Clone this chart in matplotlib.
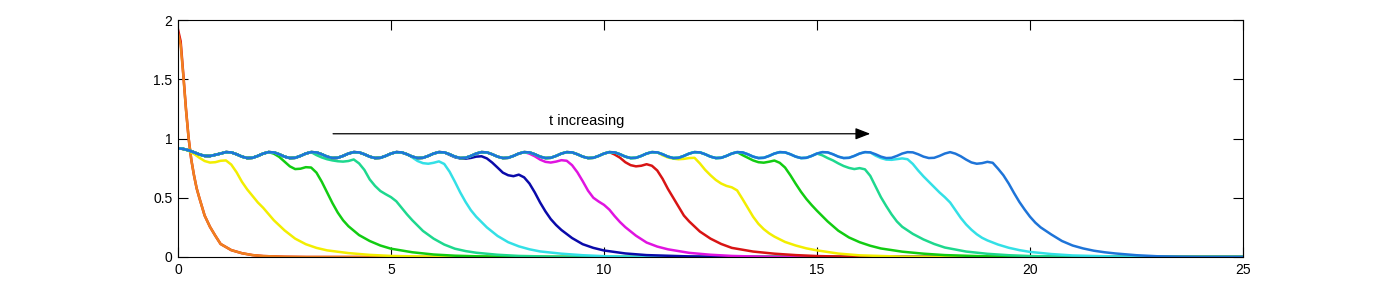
import numpy as np
import matplotlib
matplotlib.use("Agg")
import matplotlib.pyplot as plt

plt.rcParams['font.family'] = ['Liberation Sans', 'DejaVu Sans']

# ---------------- data ----------------
# shared wavy plateau, sampled every 0.125 from x = 0
plateau_y = [0.917, 0.912, 0.900, 0.884, 0.866, 0.853, 0.852, 0.862,
             0.873, 0.885, 0.883, 0.867, 0.847, 0.835, 0.837, 0.853,   # 1
             0.873, 0.885, 0.883, 0.867, 0.847, 0.835, 0.837, 0.853,   # 2
             0.873, 0.885, 0.883, 0.867, 0.847, 0.835, 0.837, 0.853,   # 3
             0.873, 0.885, 0.883, 0.867, 0.847, 0.835, 0.837, 0.853,   # 4
             0.873, 0.885, 0.883, 0.867, 0.847, 0.835, 0.837, 0.853,   # 5
             0.873, 0.885, 0.883, 0.867, 0.847, 0.835, 0.837, 0.853,   # 6
             0.873, 0.885, 0.883, 0.867, 0.847, 0.835, 0.837, 0.853,   # 7
             0.873, 0.885, 0.883, 0.867, 0.847, 0.835, 0.837, 0.853,   # 8
             0.873, 0.885, 0.883, 0.867, 0.847, 0.835, 0.837, 0.853,   # 9
             0.873, 0.885, 0.883, 0.867, 0.847, 0.835, 0.837, 0.853,   # 10
             0.873, 0.885, 0.883, 0.867, 0.847, 0.835, 0.837, 0.853,   # 11
             0.873, 0.885, 0.883, 0.867, 0.847, 0.835, 0.837, 0.853,   # 12
             0.873, 0.885, 0.883, 0.867, 0.847, 0.835, 0.837, 0.853,   # 13
             0.873, 0.885, 0.883, 0.867, 0.847, 0.835, 0.837, 0.853,   # 14
             0.873, 0.885, 0.883, 0.867, 0.847, 0.835, 0.837, 0.853,   # 15
             0.873, 0.885, 0.883, 0.867, 0.847, 0.835, 0.837, 0.853,   # 16
             0.873, 0.885, 0.883, 0.867, 0.847, 0.835, 0.837, 0.853,   # 17
             0.873, 0.885]
plateau_x = np.arange(len(plateau_y)) * 0.125

# initial profiles (red and orange, nearly identical)
init_x = [0, 0.0625, 0.125, 0.1875, 0.25, 0.3125, 0.375, 0.4375, 0.5, 0.625,
          0.75, 0.875, 1.0, 1.25, 1.5, 1.75, 2.0, 2.5, 3.0, 25.0]
red0_y = [1.92, 1.82, 1.54, 1.25, 1.00, 0.82, 0.69, 0.58, 0.50, 0.35,
          0.255, 0.18, 0.11, 0.058, 0.032, 0.016, 0.008, 0.002, 0.0, 0.0]
orange_y = [1.89, 1.79, 1.53, 1.24, 1.00, 0.82, 0.69, 0.58, 0.50, 0.35,
            0.255, 0.18, 0.11, 0.058, 0.032, 0.016, 0.008, 0.002, 0.0, 0.0]

# travelling fronts (each leaves the plateau at its first x)
yellow1_x = [0.25, 0.375, 0.5, 0.625, 0.75, 0.875, 1.0, 1.125, 1.25, 1.375, 1.5, 1.625,
             1.75, 1.875, 2.0, 2.25, 2.5, 2.75, 3.0, 3.25, 3.5, 4.0, 4.5, 5.0, 6.0, 7.0, 25.0]
yellow1_y = [0.895, 0.87, 0.838, 0.81, 0.797, 0.80, 0.812, 0.815, 0.78, 0.715, 0.635, 0.57,
             0.515, 0.46, 0.415, 0.31, 0.225, 0.155, 0.108, 0.077, 0.056, 0.033, 0.018, 0.009,
             0.002, 0.0, 0.0]

green1_x = [2.25, 2.375, 2.5, 2.625, 2.75, 2.875, 3.0, 3.125, 3.25, 3.375, 3.5, 3.625,
            3.75, 3.875, 4.0, 4.25, 4.5, 4.75, 5.0, 5.5, 6.0, 6.5, 7.0, 8.0, 25.0]
green1_y = [0.872, 0.845, 0.805, 0.765, 0.742, 0.745, 0.758, 0.755, 0.712, 0.635, 0.545,
            0.455, 0.375, 0.31, 0.26, 0.185, 0.135, 0.097, 0.07, 0.04, 0.021, 0.011, 0.006,
            0.0, 0.0]

teal1_x = [3.25, 3.375, 3.5, 3.625, 3.75, 3.875, 4.0, 4.125, 4.25, 4.375, 4.5, 4.625,
           4.75, 4.875, 5.0, 5.125, 5.25, 5.375, 5.5, 5.75, 6.0, 6.25, 6.5, 6.75, 7.0, 7.5,
           8.0, 9.0, 10.0, 25.0]
teal1_y = [0.86, 0.84, 0.825, 0.815, 0.808, 0.805, 0.81, 0.823, 0.79, 0.735, 0.655, 0.60,
           0.557, 0.53, 0.505, 0.47, 0.415, 0.36, 0.31, 0.22, 0.155, 0.105, 0.07, 0.05,
           0.036, 0.019, 0.009, 0.002, 0.0, 0.0]

cyan1_x = [5.25, 5.375, 5.5, 5.625, 5.75, 5.875, 6.0, 6.125, 6.25, 6.375, 6.5, 6.625,
           6.75, 6.875, 7.0, 7.25, 7.5, 7.75, 8.0, 8.25, 8.5, 9.0, 9.5, 10.0, 11.0, 25.0]
cyan1_y = [0.88, 0.868, 0.84, 0.81, 0.792, 0.787, 0.795, 0.807, 0.785, 0.72, 0.635, 0.545,
           0.465, 0.395, 0.34, 0.25, 0.178, 0.125, 0.09, 0.065, 0.047, 0.028, 0.015, 0.007,
           0.0, 0.0]

navy_x = [6.375, 6.5, 6.625, 6.75, 6.875, 7.0, 7.125, 7.25, 7.375, 7.5, 7.625, 7.75,
          7.875, 8.0, 8.125, 8.25, 8.375, 8.5, 8.625, 8.75, 8.875, 9.0, 9.25, 9.5, 9.75,
          10.0, 10.5, 11.0, 12.0, 13.0, 25.0]
navy_y = [0.862, 0.842, 0.832, 0.83, 0.836, 0.847, 0.85, 0.832, 0.797, 0.755, 0.712, 0.69,
          0.682, 0.695, 0.672, 0.62, 0.545, 0.46, 0.385, 0.32, 0.27, 0.228, 0.16, 0.108,
          0.077, 0.055, 0.03, 0.016, 0.005, 0.0, 0.0]

magenta_x = [8.25, 8.375, 8.5, 8.625, 8.75, 8.875, 9.0, 9.125, 9.25, 9.375, 9.5, 9.625,
             9.75, 9.875, 10.0, 10.125, 10.25, 10.375, 10.5, 10.75, 11.0, 11.25, 11.5, 12.0,
             12.5, 13.0, 14.0, 25.0]
magenta_y = [0.872, 0.85, 0.822, 0.803, 0.797, 0.805, 0.817, 0.812, 0.775, 0.715, 0.64,
             0.56, 0.50, 0.468, 0.44, 0.40, 0.345, 0.295, 0.252, 0.18, 0.122, 0.088, 0.065,
             0.035, 0.019, 0.009, 0.0, 0.0]

red1_x = [10.25, 10.375, 10.5, 10.625, 10.75, 10.875, 11.0, 11.125, 11.25, 11.375, 11.5,
          11.625, 11.75, 11.875, 12.0, 12.25, 12.5, 12.75, 13.0, 13.5, 14.0, 14.5, 15.0,
          16.0, 25.0]
red1_y = [0.865, 0.838, 0.80, 0.775, 0.765, 0.77, 0.783, 0.77, 0.73, 0.66, 0.575, 0.50,
          0.425, 0.35, 0.30, 0.215, 0.155, 0.11, 0.077, 0.046, 0.028, 0.016, 0.008, 0.0, 0.0]

yellow2_x = [11.375, 11.5, 11.625, 11.75, 11.875, 12.0, 12.125, 12.25, 12.375, 12.5,
             12.625, 12.75, 12.875, 13.0, 13.125, 13.25, 13.375, 13.5, 13.625, 13.75,
             13.875, 14.0, 14.25, 14.5, 14.75, 15.0, 15.5, 16.0, 17.0, 18.0, 25.0]
yellow2_y = [0.858, 0.84, 0.83, 0.825, 0.828, 0.835, 0.837, 0.79, 0.735, 0.69, 0.65, 0.62,
             0.60, 0.588, 0.562, 0.49, 0.415, 0.34, 0.28, 0.235, 0.20, 0.172, 0.127, 0.097,
             0.073, 0.056, 0.029, 0.014, 0.003, 0.0, 0.0]

green2_x = [13.25, 13.375, 13.5, 13.625, 13.75, 13.875, 14.0, 14.125, 14.25, 14.375, 14.5,
            14.625, 14.75, 14.875, 15.0, 15.25, 15.5, 15.75, 16.0, 16.25, 16.5, 17.0, 17.5,
            18.0, 19.0, 20.0, 25.0]
green2_y = [0.86, 0.838, 0.815, 0.80, 0.796, 0.804, 0.814, 0.795, 0.755, 0.69, 0.618, 0.55,
            0.49, 0.438, 0.39, 0.30, 0.222, 0.165, 0.125, 0.095, 0.072, 0.045, 0.028, 0.016,
            0.005, 0.0, 0.0]

teal2_x = [15.125, 15.25, 15.375, 15.5, 15.625, 15.75, 15.875, 16.0, 16.125, 16.25, 16.375,
           16.5, 16.625, 16.75, 16.875, 17.0, 17.25, 17.5, 17.75, 18.0, 18.5, 19.0, 19.5,
           20.0, 21.0, 22.0, 25.0]
teal2_y = [0.858, 0.835, 0.815, 0.79, 0.768, 0.752, 0.742, 0.75, 0.74, 0.685, 0.595, 0.505,
           0.43, 0.36, 0.30, 0.255, 0.195, 0.148, 0.11, 0.08, 0.046, 0.027, 0.015, 0.008,
           0.002, 0.0, 0.0]

cyan2_x = [16.375, 16.5, 16.625, 16.75, 16.875, 17.0, 17.125, 17.25, 17.375, 17.5, 17.625,
           17.75, 17.875, 18.0, 18.125, 18.25, 18.375, 18.5, 18.625, 18.75, 18.875, 19.0,
           19.25, 19.5, 19.75, 20.0, 20.5, 21.0, 22.0, 23.0, 25.0]
cyan2_y = [0.855, 0.835, 0.822, 0.82, 0.826, 0.832, 0.825, 0.785, 0.73, 0.68, 0.635, 0.59,
           0.545, 0.505, 0.46, 0.395, 0.33, 0.275, 0.23, 0.192, 0.162, 0.14, 0.105, 0.078,
           0.058, 0.043, 0.025, 0.013, 0.004, 0.0, 0.0]

blue_x = [18.25, 18.375, 18.5, 18.625, 18.75, 18.875, 19.0, 19.125, 19.25, 19.375, 19.5,
          19.625, 19.75, 19.875, 20.0, 20.125, 20.25, 20.5, 20.75, 21.0, 21.25, 21.5, 21.75,
          22.0, 22.5, 23.0, 23.5, 24.0, 25.0]
blue_y = [0.872, 0.85, 0.822, 0.798, 0.787, 0.792, 0.803, 0.795, 0.745, 0.69, 0.62, 0.54,
          0.465, 0.40, 0.34, 0.29, 0.25, 0.19, 0.135, 0.097, 0.072, 0.053, 0.04, 0.03, 0.015,
          0.006, 0.002, 0.0, 0.0]

fronts = [
    (yellow1_x, yellow1_y, '#F2EE00'),
    (green1_x, green1_y, '#12CC12'),
    (teal1_x, teal1_y, '#1ED88E'),
    (cyan1_x, cyan1_y, '#33E0E6'),
    (navy_x, navy_y, '#0A0AAA'),
    (magenta_x, magenta_y, '#E014E0'),
    (red1_x, red1_y, '#D81414'),
    (yellow2_x, yellow2_y, '#F2EE00'),
    (green2_x, green2_y, '#12CC12'),
    (teal2_x, teal2_y, '#1ED88E'),
    (cyan2_x, cyan2_y, '#33E0E6'),
    (blue_x, blue_y, '#1E74D8'),
]

xticks = [0, 5, 10, 15, 20, 25]
yticks = [0, 0.5, 1, 1.5, 2]
ytick_labels = ['0', '0.5', '1', '1.5', '2']

# ---------------- figure ----------------
fig = plt.figure(figsize=(13.74, 2.89), dpi=100)
ax = fig.add_axes([178 / 1374, 1 - 257 / 289, (1243 - 178) / 1374, (257 - 20) / 289])

lw = 1.8
ax.plot(init_x, red0_y, color='#E01010', lw=lw)
ax.plot(init_x, orange_y, color='#F08020', lw=lw)

for fx, fy, col in fronts:
    mask = plateau_x < fx[0]
    xs = np.concatenate([plateau_x[mask], fx])
    ys = np.concatenate([np.asarray(plateau_y)[mask], fy])
    ax.plot(xs, ys, color=col, lw=lw)

ax.set_xlim(0, 25)
ax.set_ylim(0, 2)
ax.set_xticks(xticks)
ax.set_xticklabels([str(v) for v in xticks])
ax.set_yticks(yticks)
ax.set_yticklabels(ytick_labels)
ax.tick_params(direction='in', length=7.5, width=0.8, top=True, right=True,
               labelsize=10, pad=4, colors='black')
for s in ax.spines.values():
    s.set_linewidth(0.8)

ax.annotate('', xy=(16.25, 1.04), xytext=(3.64, 1.04),
            arrowprops=dict(arrowstyle='-|>,head_length=0.9,head_width=0.35',
                            color='black', lw=0.9, shrinkA=0, shrinkB=0))
ax.text(9.6, 1.15, 't increasing', ha='center', va='center', fontsize=10.5)

fig.savefig('out.png', dpi=100)
